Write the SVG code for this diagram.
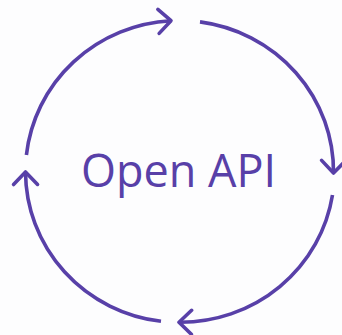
<svg xmlns="http://www.w3.org/2000/svg" width="342" height="335" viewBox="0 0 342 335">
<style>
.arc{fill:none;stroke:#5840A8;stroke-width:3.6;stroke-linecap:butt}
.lbl{font-family:"Open Sans","Noto Sans",sans-serif;font-size:45px;fill:#5840A8}
</style>
<defs>
<marker id="ah" markerUnits="userSpaceOnUse" viewBox="-16 -15 20 30" refX="0" refY="0" markerWidth="20" markerHeight="30" orient="auto">
<path d="M-12.5,-12 L0,0 L-12.5,12" fill="none" stroke="#5840A8" stroke-width="3.6" stroke-linecap="round" stroke-linejoin="round"/>
</marker>
</defs>
<rect width="342" height="335" fill="#fdfdfe"/>
<g id="connectors">
<path class="arc" d="M26.4,155 A154,151 0 0 1 171,20.7" marker-end="url(#ah)"/>
<path class="arc" d="M200,21.9 A154,151 0 0 1 333.5,173" marker-end="url(#ah)"/>
<path class="arc" d="M332.5,195 A154,151 0 0 1 179,322.2" marker-end="url(#ah)"/>
<path class="arc" d="M161,321.3 A154,151 0 0 1 25.5,172" marker-end="url(#ah)"/>
</g>
<g id="label">
<text class="lbl" x="178.5" y="187" text-anchor="middle">Open API</text>
</g>
</svg>
